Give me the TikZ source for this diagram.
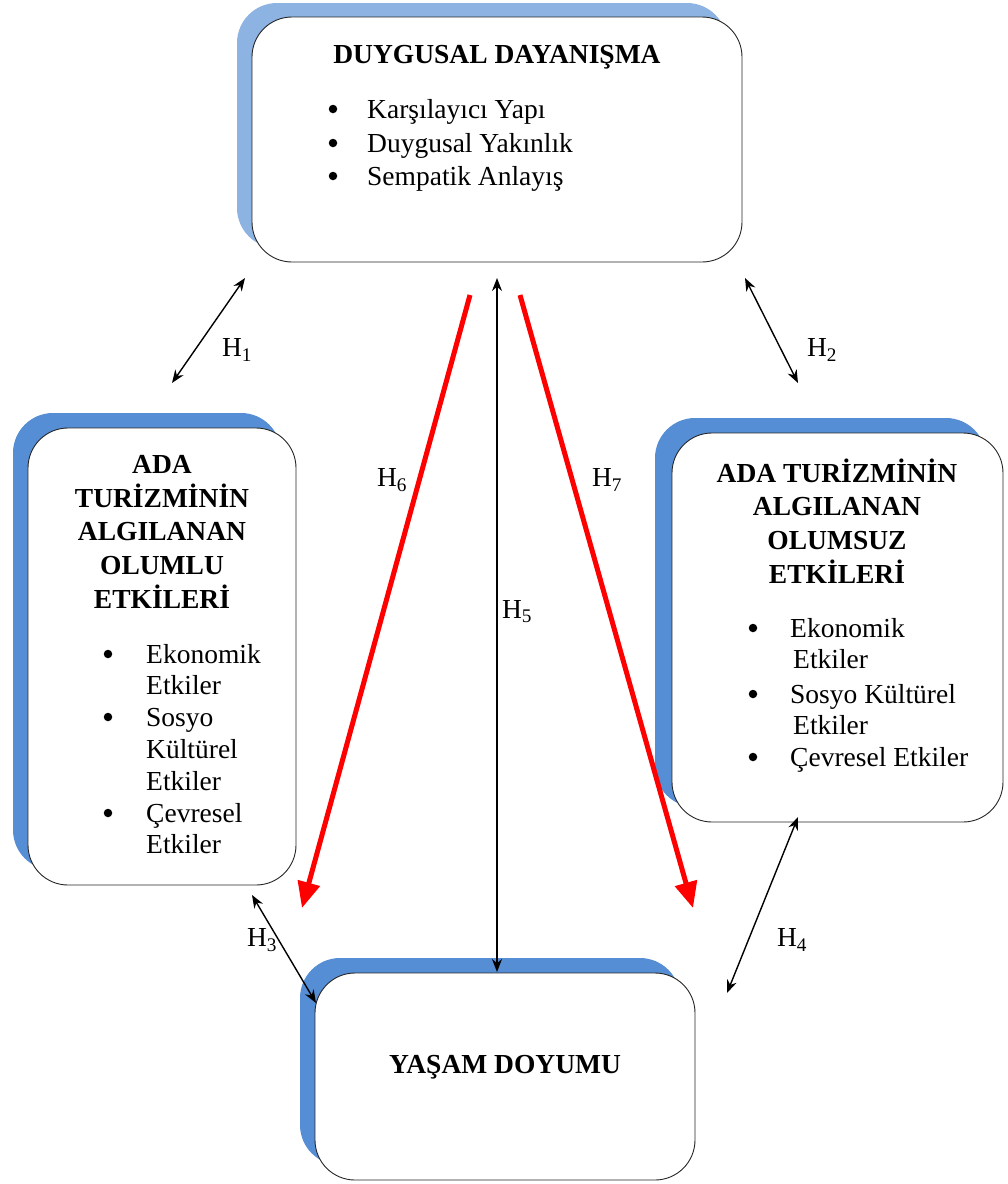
\documentclass[tikz,border=0pt]{standalone}
\usepackage{fontspec}
\setmainfont{Liberation Serif}
\usetikzlibrary{arrows.meta,calc}
\definecolor{shadeA}{HTML}{8DB3E2}
\definecolor{shadeB}{HTML}{558ED5}
\definecolor{redline}{HTML}{FF0000}
\begin{document}
\begin{tikzpicture}[x=1pt,y=-1pt,
  box/.style={draw=black!85, line width=0.9pt, fill=white, rounded corners=40pt, inner sep=0pt},
  shbox/.style={fill=#1, rounded corners=40pt, inner sep=0pt},
  tt/.style={font=\fontsize{27.5}{33}\selectfont\bfseries, anchor=base, inner sep=0pt},
  it/.style={font=\fontsize{27.5}{33}\selectfont, anchor=base west, inner sep=0pt},
  bul/.style={circle, fill=black, inner sep=0pt, minimum size=8.5pt},
  hl/.style={font=\fontsize{27.5}{33}\selectfont, inner sep=0pt},
  dbl/.style={{Stealth[length=13pt,width=10pt]}-{Stealth[length=13pt,width=10pt]}, line width=1.4pt, draw=black},
  redarrow/.style={-{Triangle[length=26pt,width=22pt]}, line width=5pt, draw=redline}
]
\useasboundingbox (0,0) rectangle (1008,1184);

% shadows
\node[shbox=shadeA, minimum width=490pt, minimum height=245pt] (dds) at (482,125.5) {};
\node[shbox=shadeB, minimum width=268pt, minimum height=457pt] (ols) at (147,641.5) {};
\node[shbox=shadeB, minimum width=331pt, minimum height=389pt] (oms) at (820.5,612.5) {};
\node[shbox=shadeB, minimum width=380pt, minimum height=207pt] (yds) at (490,1061.5) {};

% boxes
\node[box, minimum width=490pt, minimum height=245pt] (dd) at (497,139.5) {};
\node[box, minimum width=268pt, minimum height=457pt] (ol) at (162,656.5) {};
\node[box, minimum width=331pt, minimum height=389pt] (om) at (837.5,627.5) {};
\node[box, minimum width=380pt, minimum height=207pt] (yd) at (505,1076.5) {};

% top box text
\node[tt] (ddt) at (497,63) {DUYGUSAL DAYANIŞMA};
\node[bul] (ddb1) at (333,109) {};
\node[bul] (ddb2) at (333,143) {};
\node[bul] (ddb3) at (333,176) {};
\node[it] (ddi1) at (367,118) {Karşılayıcı Yapı};
\node[it] (ddi2) at (367,152) {Duygusal Yakınlık};
\node[it] (ddi3) at (367,185) {Sempatik Anlayış};

% left box text
\node[tt] (olt1) at (162,473) {ADA};
\node[tt] (olt2) at (162,507) {TURİZMİNİN};
\node[tt] (olt3) at (162,540) {ALGILANAN};
\node[tt] (olt4) at (162,574) {OLUMLU};
\node[tt] (olt5) at (162,608) {ETKİLERİ};
\node[bul] (olb1) at (108,654) {};
\node[bul] (olb2) at (108,717) {};
\node[bul] (olb3) at (108,813) {};
\node[it] (oli1) at (146,663) {Ekonomik};
\node[it] (oli2) at (146,694) {Etkiler};
\node[it] (oli3) at (146,726) {Sosyo};
\node[it] (oli4) at (146,758) {Kültürel};
\node[it] (oli5) at (146,790) {Etkiler};
\node[it] (oli6) at (146,822) {Çevresel};
\node[it] (oli7) at (146,853) {Etkiler};

% right box text
\node[tt] (omt1) at (837,482) {ADA TURİZMİNİN};
\node[tt] (omt2) at (837,515) {ALGILANAN};
\node[tt] (omt3) at (837,549) {OLUMSUZ};
\node[tt] (omt4) at (837,583) {ETKİLERİ};
\node[bul] (omb1) at (753,628) {};
\node[bul] (omb2) at (753,694) {};
\node[bul] (omb3) at (753,757) {};
\node[it] (omi1) at (790,637) {Ekonomik};
\node[it] (omi2) at (793,668) {Etkiler};
\node[it] (omi3) at (790,703) {Sosyo Kültürel};
\node[it] (omi4) at (793,734) {Etkiler};
\node[it] (omi5) at (790,766) {Çevresel Etkiler};

% bottom box text
\node[tt] (ydt) at (505,1073) {YAŞAM DOYUMU};

% connector end points
\coordinate (h1a) at (245,278);
\coordinate (h1b) at (172,383);
\coordinate (h2a) at (745,278);
\coordinate (h2b) at (798,383);
\coordinate (h3a) at (252,895);
\coordinate (h3b) at (316,1003);
\coordinate (h4a) at (798,817);
\coordinate (h4b) at (727,993);
\coordinate (h5a) at (497,278);
\coordinate (h5b) at (497,972);
\coordinate (h6a) at (470,295);
\coordinate (h6b) at (302,908);
\coordinate (h7a) at (520,295);
\coordinate (h7b) at (693,908);

\draw[dbl] (h1a) -- (h1b);
\draw[dbl] (h2a) -- (h2b);
\draw[dbl] (h3a) -- (h3b);
\draw[dbl] (h4a) -- (h4b);
\draw[dbl] (h5a) -- (h5b);
\draw[redarrow] (h6a) -- (h6b);
\draw[redarrow] (h7a) -- (h7b);

% labels
\node[hl] (l1) at (237,350) {H\textsubscript{1}};
\node[hl] (l2) at (822,350) {H\textsubscript{2}};
\node[hl] (l3) at (262,940) {H\textsubscript{3}};
\node[hl] (l4) at (792,940) {H\textsubscript{4}};
\node[hl] (l5) at (517,612) {H\textsubscript{5}};
\node[hl] (l6) at (392,480) {H\textsubscript{6}};
\node[hl] (l7) at (607,480) {H\textsubscript{7}};
\end{tikzpicture}
\end{document}
